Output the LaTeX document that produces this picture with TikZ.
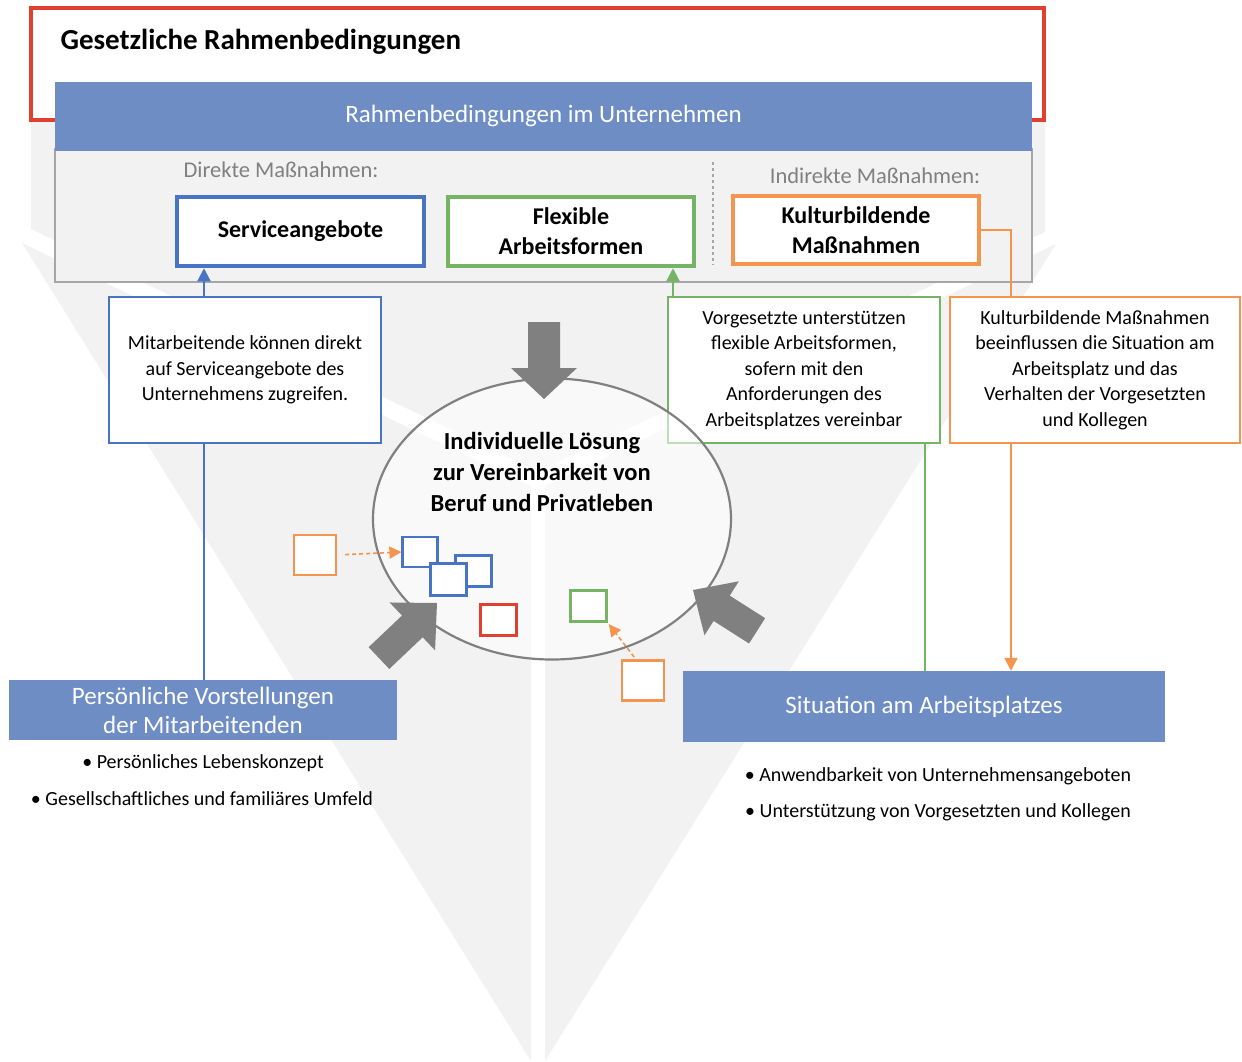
\documentclass[tikz,border=0pt]{standalone}
\usepackage{fontspec}
\setmainfont{Carlito}
\usetikzlibrary{arrows.meta,shapes.geometric}
\definecolor{rahmenred}{RGB}{224,64,48}
\definecolor{hdrblue}{RGB}{110,141,196}
\definecolor{bblue}{RGB}{72,116,196}
\definecolor{bgreen}{RGB}{116,180,100}
\definecolor{borange}{RGB}{244,148,78}
\definecolor{bggray}{RGB}{242,242,242}
\definecolor{panelborder}{RGB}{166,166,166}
\definecolor{arrowgray}{RGB}{128,128,128}
\definecolor{labelgray}{RGB}{128,128,128}
\tikzset{
  cbox/.style={draw, line width=4.5pt, fill=white, inner sep=0pt, align=center,
    font=\fontsize{24}{30}\selectfont\bfseries},
  tbox/.style={draw, line width=2pt, fill=white, inner sep=0pt, align=center,
    font=\fontsize{20}{25.5}\selectfont},
  bluebar/.style={fill=hdrblue, inner sep=0pt, align=center, text=white,
    font=\fontsize{25}{29}\selectfont},
  bullettext/.style={font=\fontsize{20}{24}\selectfont, anchor=center},
  graylabel/.style={text=labelgray, font=\fontsize{22.5}{26}\selectfont},
  sq/.style={draw, line width=2.2pt, fill=white, inner sep=0pt},
  conn/.style={line width=2.2pt},
  tipA/.style={-{Triangle[length=13pt,width=13pt]}},
  dasharrow/.style={borange, line width=1.6pt, dash pattern=on 4pt off 3pt, -{Triangle[length=12pt,width=12pt]}},
  bigarrow/.style={fill=arrowgray}
}
\begin{document}
\begin{tikzpicture}[x=1pt,y=-1pt]
\useasboundingbox (0,0) rectangle (1242,1061);
% background segments
\fill[bggray] (31,100) -- (1045,100) -- (1045,232) -- (538,471) -- (31,229) -- cycle;
\fill[bggray] (22,243) -- (531,486) -- (531,1061) -- cycle;
\fill[bggray] (1056,244) -- (545,486) -- (545,1061) -- cycle;
% legal frame
\node[draw=rahmenred, line width=3.2pt, fill=white, minimum width=1013pt, minimum height=112pt, inner sep=0pt] (legal) at (537.5,64) {};
\node[anchor=west, font=\fontsize{29}{34}\selectfont\bfseries] (legaltitle) at (57,42) {Gesetzliche Rahmenbedingungen};
% company panel
\node[draw=panelborder, line width=2.5pt, fill=bggray, minimum width=977pt, minimum height=133pt, inner sep=0pt] (panel) at (543.5,215.5) {};
\node[bluebar, minimum width=977pt, minimum height=69pt] (hdr) at (543.5,116) {Rahmenbedingungen im Unternehmen};
\node[graylabel] (direkt) at (281,170) {Direkte Maßnahmen:};
\node[graylabel] (indirekt) at (875,176) {Indirekte Maßnahmen:};
\draw[panelborder, line width=1.4pt, dashed] (713,162) -- (713,265);
\node[cbox, draw=bblue, minimum width=247pt, minimum height=69pt] (service) at (300.5,231.5) {Serviceangebote};
\node[cbox, draw=bgreen, minimum width=246pt, minimum height=69pt] (flex) at (571,231.5) {Flexible\\Arbeitsformen};
\node[cbox, draw=borange, minimum width=246pt, minimum height=68pt] (kultur) at (856,230) {Kulturbildende\\Maßnahmen};
% explanation boxes
\node[tbox, draw=bblue, minimum width=272pt, minimum height=146pt] (tbox1) at (245,370) {Mitarbeitende können direkt\\auf Serviceangebote des\\Unternehmens zugreifen.};
\node[tbox, draw=bgreen, minimum width=272pt, minimum height=146pt] (tbox2) at (804,370) {Vorgesetzte unterstützen\\flexible Arbeitsformen,\\sofern mit den\\Anforderungen des\\Arbeitsplatzes vereinbar};
\node[tbox, draw=borange, minimum width=290pt, minimum height=146pt] (tbox3) at (1095,370) {Kulturbildende Maßnahmen\\beeinflussen die Situation am\\Arbeitsplatz und das\\Verhalten der Vorgesetzten\\und Kollegen};
% bottom bars
\node[bluebar, minimum width=388pt, minimum height=60pt] (pers) at (203,710) {Persönliche Vorstellungen\\der Mitarbeitenden};
\node[bluebar, minimum width=482pt, minimum height=71pt] (sit) at (924,706.5) {Situation am Arbeitsplatzes};
\node[bullettext] (pb1) at (203,763) {• Persönliches Lebenskonzept};
\node[bullettext] (pb2) at (202,799) {• Gesellschaftliches und familiäres Umfeld};
\node[bullettext] (sb1) at (938,776) {• Anwendbarkeit von Unternehmensangeboten};
\node[bullettext] (sb2) at (938,812) {• Unterstützung von Vorgesetzten und Kollegen};
% connectors
\draw[conn, bblue, tipA] ([xshift=-41pt]tbox1.north) -- ([xshift=-41pt]tbox1.north |- service.south);
\draw[conn, bblue] ([xshift=-41pt]tbox1.south) -- ([xshift=-41pt]tbox1.south |- pers.north);
\draw[conn, bgreen, tipA] ([xshift=6pt]tbox2.north west) -- ([xshift=6pt]tbox2.north west |- flex.south);
\draw[conn, bgreen] ([xshift=-16pt]tbox2.south east) -- ([xshift=-16pt]tbox2.south east |- sit.north);
\draw[conn, borange] (kultur.east) -| ([xshift=62pt]tbox3.north west);
\draw[conn, borange, tipA] ([xshift=62pt]tbox3.south west) -- ([xshift=62pt]tbox3.south west |- sit.north);
% central ellipse
\node[ellipse, draw=arrowgray, line width=2.2pt, fill=white, fill opacity=0.55, minimum width=358pt, minimum height=281pt, inner sep=0pt] (solution) at (552,519) {};
\node[align=center, font=\fontsize{24.5}{31}\selectfont\bfseries] (soltext) at (542,472) {Individuelle Lösung\\zur Vereinbarkeit von\\Beruf und Privatleben};
% small squares
\node[sq, draw=borange, minimum width=42pt, minimum height=40pt] (osq1) at (315,555) {};
\node[sq, draw=bblue, minimum width=35pt, minimum height=30pt] (bsq1) at (420,552) {};
\node[sq, draw=bblue, minimum width=36pt, minimum height=31pt] (bsq2) at (473.5,571) {};
\node[sq, draw=bblue, minimum width=36pt, minimum height=32pt] (bsq3) at (448.5,579.5) {};
\node[sq, draw=rahmenred, minimum width=36pt, minimum height=31pt] (rsq) at (498.5,620) {};
\node[sq, draw=bgreen, minimum width=36pt, minimum height=31pt] (gsq) at (588.5,606) {};
\node[sq, draw=borange, minimum width=42pt, minimum height=40pt] (osq2) at (643,680.5) {};
\draw[dasharrow, shorten <=8pt] (osq1.east) -- (bsq1.west);
\draw[dasharrow, shorten <=3pt, shorten >=2pt] ([xshift=-7pt]osq2.north) -- (gsq.south east);
% big gray arrows
\fill[bigarrow] (528,322) -- (560,322) -- (560,368) -- (577,368) -- (544,399) -- (511,368) -- (528,368) -- cycle;
\begin{scope}[shift={(437,603)}, rotate=43.5]
  \fill[bigarrow] (0,0) -- (-34,33) -- (-34,15) -- (-80,15) -- (-80,-15) -- (-34,-15) -- (-34,-33) -- cycle;
\end{scope}
\begin{scope}[shift={(693,590)}, rotate=147.5]
  \fill[bigarrow] (0,0) -- (-34,32) -- (-34,15) -- (-76,15) -- (-76,-15) -- (-34,-15) -- (-34,-32) -- cycle;
\end{scope}
\end{tikzpicture}
\end{document}
